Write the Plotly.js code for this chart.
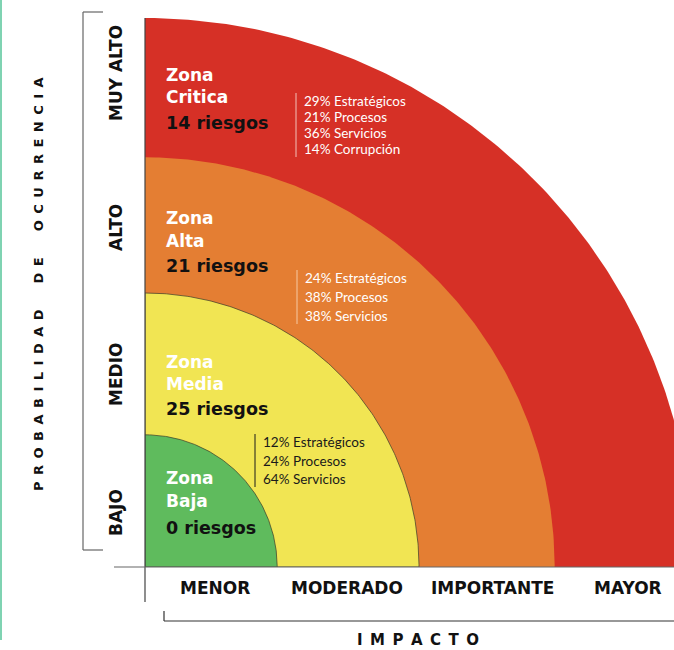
<!DOCTYPE html>
<html>
<head>
<meta charset="utf-8">
<script src="https://cdn.plot.ly/plotly-3.0.1.min.js"></script>
<style>
html,body{margin:0;padding:0;background:#fff;}
#chart{width:674px;height:650px;}
</style>
</head>
<body>
<div id="chart"></div>
<script>
// ---- data ----
const zones = ['Baja', 'Media', 'Alta', 'Critica'];
const riesgos = [0, 25, 21, 14];
const radii = [0.965, 2.0, 2.99, 4.007];           // zone outer radius (impact/probability units)
const zoneColors = ['#5fbb5d', '#f1e553', '#e47e33', '#d63026'];
const breakdownMedia = ['12% Estratégicos', '24% Procesos', '64% Servicios'];
const breakdownAlta = ['24% Estratégicos', '38% Procesos', '38% Servicios'];
const breakdownCritica = ['29% Estratégicos', '21% Procesos', '36% Servicios', '14% Corrupción'];
const impactoLabels = ['MENOR', 'MODERADO', 'IMPORTANTE', 'MAYOR'];
const probLabels = ['BAJO', 'MEDIO', 'ALTO', 'MUY ALTO'];

// ---- layout geometry ----
const W = 674, H = 650;
const L = 145, R = 0, T = 10, B = 83;
const pw = W - L - R, ph = H - T - B;
const S = 137; // px per unit
const px = x => (x - L) / pw;
const py = y => (H - B - y) / ph;

// quarter discs
const traces = [];
for (let i = radii.length - 1; i >= 0; i--) {
  const xs = [0], ys = [0];
  for (let k = 0; k <= 180; k++) {
    const a = (Math.PI / 2) * k / 180;
    xs.push(radii[i] * Math.cos(a));
    ys.push(radii[i] * Math.sin(a));
  }
  xs.push(0); ys.push(0);
  traces.push({
    x: xs, y: ys, type: 'scatter', mode: 'lines', fill: 'toself',
    fillcolor: zoneColors[i],
    line: {color: (i < 2 ? '#3a3a2a' : zoneColors[i]), width: (i < 2 ? 0.7 : 0)},
    hoverinfo: 'skip', showlegend: false, name: zones[i]
  });
}

const bold = (size, color) => ({family: '"DejaVu Sans", sans-serif', size: size, color: color, weight: 700});
const light = (size, color) => ({family: 'Lato, sans-serif', size: size, color: color, weight: 400});

const ann = [];
function addText(text, x, y, font, opts) {
  ann.push(Object.assign({text: text, x: px(x), y: py(y), xref: 'paper', yref: 'paper',
    showarrow: false, xanchor: 'left', yanchor: 'middle', font: font}, opts || {}));
}

// zone labels
const zonePos = {
  Critica: {x: 164, ys: [75, 97, 123]},
  Alta: {x: 164, ys: [218, 241, 266]},
  Media: {x: 164, ys: [362, 384, 409]},
  Baja: {x: 164, ys: [478, 501, 528]}
};
zones.forEach((z, i) => {
  const p = zonePos[z];
  addText('Zona', p.x, p.ys[0], bold(17, '#ffffff'));
  addText(z, p.x, p.ys[1], bold(17, '#ffffff'));
  addText(riesgos[i] + ' riesgos', p.x, p.ys[2], bold(17.5, '#111111'));
});

// breakdown texts
const shapes = [];
function breakdown(lines, x, y0, dy, color, barColor) {
  lines.forEach((t, k) => addText(t, x, y0 + k * dy, light(13.5, color)));
  shapes.push({type: 'line', xref: 'paper', yref: 'paper',
    x0: px(x - 6), x1: px(x - 6), y0: py(y0 - 8), y1: py(y0 + (lines.length - 1) * dy + 8),
    line: {color: barColor, width: 1}});
}
breakdown(breakdownCritica, 302, 101, 16, '#ffffff', '#f3c0b8');
breakdown(breakdownAlta, 303, 278, 19, '#ffffff', '#f6c9a4');
breakdown(breakdownMedia, 261, 442, 18.5, '#1a1a1a', '#1a1a1a');

// axis category labels
const impX = [215, 347, 492, 628];
impactoLabels.forEach((t, i) => addText(t, impX[i], 588, bold(17, '#111111'), {xanchor: 'center'}));
const probY = [513, 375, 228, 73];
probLabels.forEach((t, i) => addText(t, 116, probY[i], bold(17, '#111111'), {xanchor: 'center', textangle: -90}));

// axis titles (letter spaced)
const spaced = s => s.split('').map(c => c === ' ' ? '\u2002\u2002' : c).join('\u2002');
addText(spaced('PROBABILIDAD DE OCURRENCIA'), 38, 284, bold(13, '#111111'), {xanchor: 'center', textangle: -90});
addText(spaced('IMPACTO'), 418, 640, bold(15, '#111111'), {xanchor: 'center'});

// lines
const ln = (x0, y0, x1, y1, c, w) => shapes.push({type: 'line', xref: 'paper', yref: 'paper',
  x0: px(x0), y0: py(y0), x1: px(x1), y1: py(y1), line: {color: c, width: w}});
ln(1, 0, 1, 640, '#7fd3b2', 2);            // left teal rule
ln(145, 18, 145, 602, '#444444', 1.2);      // vertical axis
ln(114, 567, 674, 567, '#666666', 1.2);     // horizontal axis
ln(83, 12, 103, 12, '#666666', 1.2);        // left bracket
ln(83, 12, 83, 550, '#666666', 1.2);
ln(83, 550, 103, 550, '#666666', 1.2);
ln(164, 611, 164, 621, '#333333', 1.2);     // bottom bracket
ln(164, 621, 674, 621, '#333333', 1.2);

const layout = {
  width: W, height: H,
  margin: {l: L, r: R, t: T, b: B, pad: 0},
  paper_bgcolor: '#ffffff', plot_bgcolor: '#ffffff',
  xaxis: {range: [0, pw / S], visible: false, fixedrange: true},
  yaxis: {range: [0, ph / S], visible: false, fixedrange: true},
  showlegend: false,
  annotations: ann,
  shapes: shapes
};
Plotly.newPlot('chart', traces, layout, {staticPlot: true, displayModeBar: false});
</script>
</body>
</html>
